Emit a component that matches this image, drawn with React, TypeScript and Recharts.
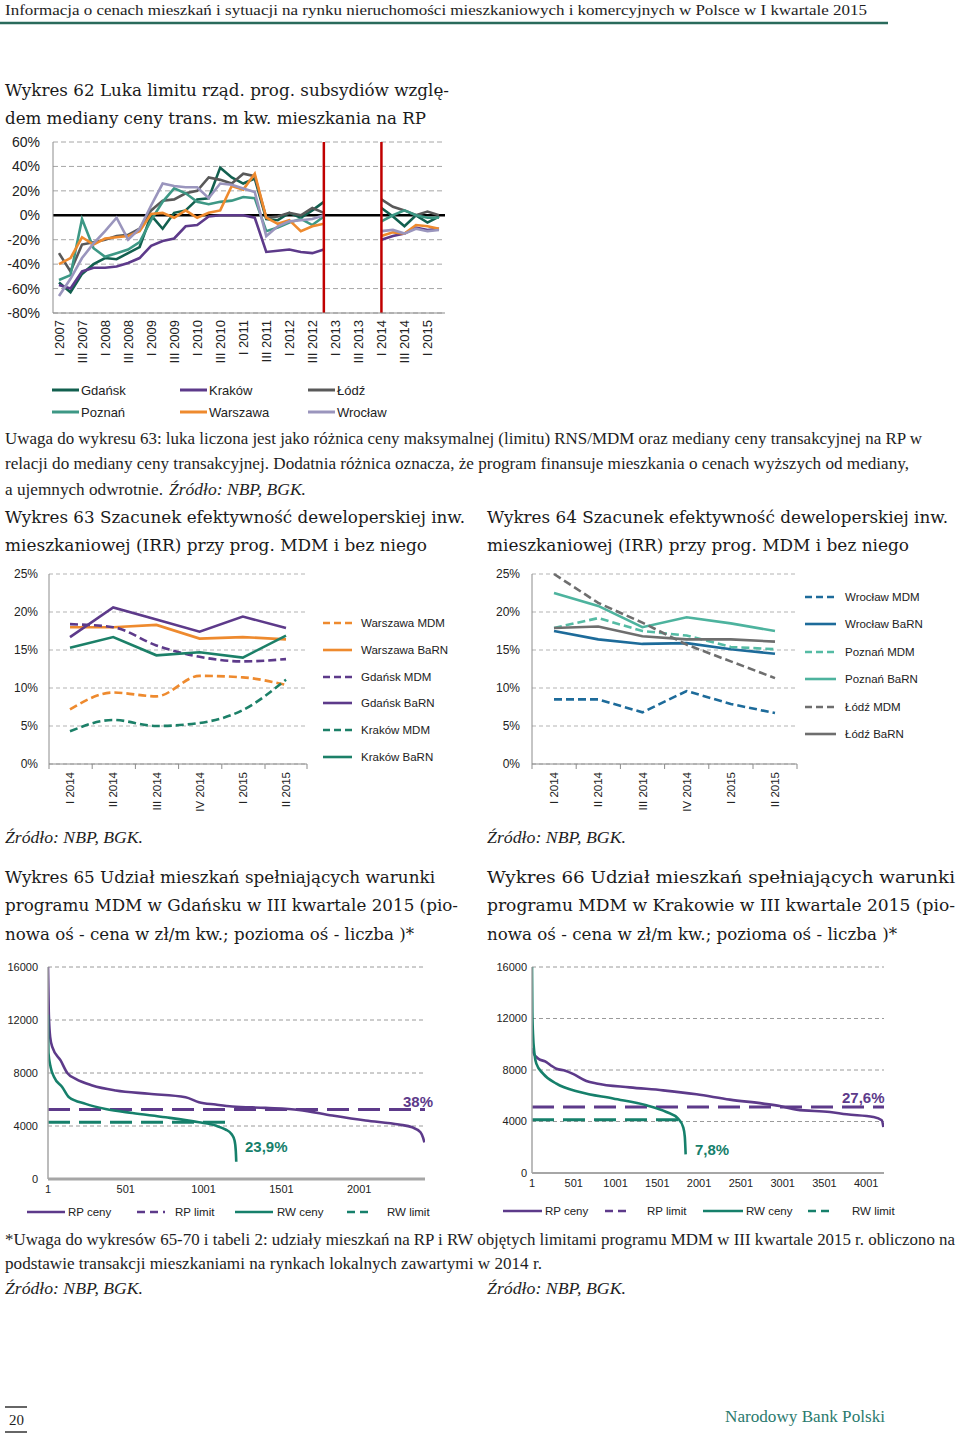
import React from 'react';
import { LineChart, Line, XAxis, YAxis, CartesianGrid, ReferenceLine } from 'recharts';

const SANS = '"Liberation Sans", Arial, sans-serif';
const SERIF = '"Liberation Serif", "DejaVu Serif", serif';
const TITLE = '"DejaVu Serif", "Liberation Serif", serif';

// ---------- Wykres 62 ----------
const quarters62 = [
  'I 2007', 'II 2007', 'III 2007', 'IV 2007',
  'I 2008', 'II 2008', 'III 2008', 'IV 2008',
  'I 2009', 'II 2009', 'III 2009', 'IV 2009',
  'I 2010', 'II 2010', 'III 2010', 'IV 2010',
  'I 2011', 'II 2011', 'III 2011', 'IV 2011',
  'I 2012', 'II 2012', 'III 2012', 'IV 2012',
  'I 2013', 'II 2013', 'III 2013', 'IV 2013',
  'I 2014', 'II 2014', 'III 2014', 'IV 2014',
  'I 2015', 'II 2015',
];
const breaks62 = ['IV 2012', 'I 2014'];
const ticks62 = [-80, -60, -40, -20, 0, 20, 40, 60];

const gdansk62 = [-55, -63, -48, -40, -35, -36, -31, -26, 0, -11, 2, 4, 13, 14, 39, 31, 26, 30, -3, -4, 2, -2, 4, 11, null, null, null, null, 6, -1, -9, 0, -6, -1];
const krakow62 = [-57, -60, -46, -43, -43, -42, -39, -35, -25, -21, -19, -9, -8, -1, 0, 0, 0, -2, -30, -29, -28, -30, -31, -28, null, null, null, null, -20, -17, -15, -10, -12, -11];
const lodz62 = [-31, -46, -24, -22, -20, -17, -16, -11, 4, 12, 13, 18, 20, 31, 29, 26, 34, 32, -2, -1, 2, 0, 6, 2, null, null, null, null, 13, 7, 4, 0, 3, 0];
const poznan62 = [-53, -49, -3, -27, -34, -31, -28, -22, -4, 11, 22, 18, 11, 9, 11, 12, 15, 14, -13, -10, -6, -3, -8, -1, null, null, null, null, -5, 0, 4, 0, -2, -2];
const warszawa62 = [-40, -35, -18, -24, -19, -18, -17, -13, 1, 2, -2, 4, -2, 2, 4, 24, 21, 34, -2, -7, -4, -13, -9, -7, null, null, null, null, -17, -14, -15, -8, -9, -11];
const wroclaw62 = [-66, -52, -35, -23, -13, -2, -20, -11, 8, 26, 24, 23, 23, 14, 26, 25, 22, 19, -17, -9, -5, -4, -3, 0, null, null, null, null, -13, -12, -15, -11, -13, -12];

// ---------- Wykres 63 / 64 ----------
const quarters63 = ['I 2014', 'II 2014', 'III 2014', 'IV 2014', 'I 2015', 'II 2015'];
const ticks63 = [0, 5, 10, 15, 20, 25];

const warszawaMdm = [7.2, 9.4, 8.9, 11.6, 11.4, 10.4];
const warszawaBarn = [18.0, 18.0, 18.3, 16.5, 16.7, 16.4];
const gdanskMdm = [18.4, 18.0, 15.6, 14.1, 13.5, 13.8];
const gdanskBarn = [16.7, 20.6, 19.0, 17.4, 19.4, 17.9];
const krakowMdm = [4.3, 5.8, 5.0, 5.4, 7.1, 11.1];
const krakowBarn = [15.3, 16.7, 14.3, 14.7, 14.0, 16.9];

const wroclawMdm = [8.5, 8.5, 6.8, 9.6, 7.9, 6.7];
const wroclawBarn = [17.5, 16.4, 15.8, 15.9, 15.1, 14.5];
const poznanMdm = [17.9, 19.2, 17.5, 16.9, 15.4, 15.1];
const poznanBarn = [22.5, 20.8, 18.0, 19.3, 18.5, 17.5];
const lodzMdm = [25.0, 21.2, 18.6, 15.7, 13.5, 11.3];
const lodzBarn = [17.9, 18.1, 16.8, 16.4, 16.4, 16.1];

// ---------- Wykres 65 (Gdańsk) ----------
const ticks65x = [1, 501, 1001, 1501, 2001];
const ticksPrice = [0, 4000, 8000, 12000, 16000];
const gdRpRank = [1, 6, 15, 29, 82, 125, 179, 286, 436, 650, 885, 971, 1078, 1185, 1399, 1613, 1828, 2042, 2256, 2342, 2395, 2412, 2420];
const gdRpPrice = [16000, 12600, 10700, 9950, 8950, 8000, 7560, 7060, 6680, 6430, 6170, 5800, 5620, 5470, 5370, 5220, 4790, 4410, 4110, 3900, 3530, 3100, 2770];
const gdRwRank = [1, 4, 18, 40, 93, 136, 243, 371, 543, 757, 971, 1078, 1140, 1180, 1200, 1208, 1211];
const gdRwPrice = [12400, 9500, 8440, 7690, 6930, 6170, 5670, 5290, 4980, 4660, 4280, 4030, 3750, 3400, 2900, 2100, 1300];
const gdRpLimit = 5240;
const gdRwLimit = 4280;
const gdRpCount = 2424;
const gdRwLimitEnd = 1180;

// ---------- Wykres 66 (Kraków) ----------
const ticks66x = [1, 501, 1001, 1501, 2001, 2501, 3001, 3501, 4001];
const krRpRank = [1, 20, 73, 173, 240, 293, 400, 492, 652, 772, 1171, 1570, 1970, 2369, 2768, 2968, 3168, 3567, 3767, 4087, 4187, 4207];
const krRpPrice = [9700, 9300, 8900, 8620, 8300, 8100, 7950, 7700, 7150, 6950, 6650, 6420, 6110, 5700, 5390, 5200, 4920, 4740, 4560, 4350, 4100, 3570];
const krRwRank = [1, 5, 13, 30, 53, 133, 293, 572, 971, 1371, 1610, 1750, 1810, 1830, 1840];
const krRwPrice = [16000, 12500, 10800, 9300, 8490, 7720, 6940, 6290, 5780, 5260, 4740, 4220, 3570, 2800, 1450];
const krRpLimit = 5130;
const krRwLimit = 4140;
const krRpCount = 4214;
const krRwLimitEnd = 1840;

// ---------- colours ----------
const PURPLE = '#5d3a8a';
const TEAL = '#16806b';
const ORANGE = '#ee8a2e';

const series62 = [
  { key: 'gdansk', name: 'Gdańsk', color: '#12604f', values: gdansk62 },
  { key: 'krakow', name: 'Kraków', color: PURPLE, values: krakow62 },
  { key: 'lodz', name: 'Łódź', color: '#595959', values: lodz62 },
  { key: 'poznan', name: 'Poznań', color: '#3d9885', values: poznan62 },
  { key: 'warszawa', name: 'Warszawa', color: ORANGE, values: warszawa62 },
  { key: 'wroclaw', name: 'Wrocław', color: '#9a95bd', values: wroclaw62 },
];

const series63 = [
  { key: 'wMdm', name: 'Warszawa MDM', color: ORANGE, dashed: true, values: warszawaMdm },
  { key: 'wBarn', name: 'Warszawa BaRN', color: ORANGE, dashed: false, values: warszawaBarn },
  { key: 'gMdm', name: 'Gdańsk MDM', color: PURPLE, dashed: true, values: gdanskMdm },
  { key: 'gBarn', name: 'Gdańsk BaRN', color: PURPLE, dashed: false, values: gdanskBarn },
  { key: 'kMdm', name: 'Kraków MDM', color: '#1c8068', dashed: true, values: krakowMdm },
  { key: 'kBarn', name: 'Kraków BaRN', color: '#1c8068', dashed: false, values: krakowBarn },
];

const series64 = [
  { key: 'wrMdm', name: 'Wrocław MDM', color: '#1d6b9a', dashed: true, values: wroclawMdm },
  { key: 'wrBarn', name: 'Wrocław BaRN', color: '#1d6b9a', dashed: false, values: wroclawBarn },
  { key: 'pMdm', name: 'Poznań MDM', color: '#55bba4', dashed: true, values: poznanMdm },
  { key: 'pBarn', name: 'Poznań BaRN', color: '#4db39e', dashed: false, values: poznanBarn },
  { key: 'lMdm', name: 'Łódź MDM', color: '#6e6e6e', dashed: true, values: lodzMdm },
  { key: 'lBarn', name: 'Łódź BaRN', color: '#6e6e6e', dashed: false, values: lodzBarn },
];

const toRows = (cats: string[], series: any[]) =>
  cats.map((q, i) => {
    const row: any = { q };
    series.forEach((s) => (row[s.key] = s.values[i]));
    return row;
  });

const data62 = toRows(quarters62, series62);
const data63 = toRows(quarters63, series63);
const data64 = toRows(quarters63, series64);

const toPoints = (xs: number[], ys: number[]) => xs.map((x, i) => ({ x, y: ys[i] }));

const pct = (v: number) => `${v}%`;

// rotated category label; optional small tick marks at the band edges
const RotTick = (props: any) => {
  const { x, y, payload, size, band, index, count } = props;
  const axisY = y - 8;
  return (
    <g>
      {band ? (
        <line x1={x - band / 2} x2={x - band / 2} y1={axisY} y2={axisY + 5} stroke="#8c8c8c" />
      ) : null}
      {band && index === count - 1 ? (
        <line x1={x + band / 2} x2={x + band / 2} y1={axisY} y2={axisY + 5} stroke="#8c8c8c" />
      ) : null}
      <text
        x={x}
        y={y}
        transform={`rotate(-90 ${x} ${y})`}
        textAnchor="end"
        dy="0.36em"
        fontSize={size}
        fontFamily={SANS}
        fill="#222"
      >
        {payload.value}
      </text>
    </g>
  );
};

const Txt = ({ x, y, w, size, italic, color = '#1e1e1e', children, family = SERIF, weight = 'normal' }: any) => (
  <text
    x={x}
    y={y}
    fontSize={size}
    fontFamily={family}
    fontStyle={italic ? 'italic' : 'normal'}
    fontWeight={weight}
    fill={color}
    {...(w ? { textLength: w, lengthAdjust: 'spacingAndGlyphs' } : {})}
  >
    {children}
  </text>
);

const Title = (props: any) => <Txt size={17} family={TITLE} color="#1a1a1a" {...props} />;

const Chart62 = () => (
  <div style={{ position: 'absolute', left: 0, top: 130, width: 450, height: 240 }}>
    <LineChart width={450} height={240} data={data62} margin={{ top: 12, right: 5, bottom: 0, left: 0 }}>
      <CartesianGrid vertical={false} stroke="#a6a6a6" strokeDasharray="5 3" />
      <XAxis
        dataKey="q"
        interval={1}
        height={57}
        padding={{ left: 6, right: 6 }}
        tick={<RotTick size={13} />}
        tickLine={false}
        tickSize={4}
        tickMargin={3}
        axisLine={{ stroke: '#8c8c8c' }}
      />
      <YAxis
        width={53}
        domain={[-80, 60]}
        ticks={ticks62}
        tickFormatter={pct}
        tick={{ fontSize: 14, fill: '#222', fontFamily: SANS }}
        tickLine={false}
        tickSize={5}
        tickMargin={8}
        axisLine={{ stroke: '#8c8c8c' }}
      />
      <ReferenceLine y={0} stroke="#000" strokeWidth={2.5} />
      {series62.map((s) => (
        <Line
          key={s.key}
          dataKey={s.key}
          name={s.name}
          stroke={s.color}
          strokeWidth={2.6}
          dot={false}
          type="linear"
          isAnimationActive={false}
        />
      ))}
      {breaks62.map((b) => (
        <ReferenceLine key={b} x={b} stroke="#c00000" strokeWidth={2.5} />
      ))}
    </LineChart>
  </div>
);

const IrrChart = ({ left, width, right, yWidth, pad, data, series, smoothMdm, tickSize, tickMargin }: any) => (
  <div style={{ position: 'absolute', left, top: 564, width, height: 250 }}>
    <LineChart width={width} height={250} data={data} margin={{ top: 10, right, bottom: 0, left: 0 }}>
      <CartesianGrid vertical={false} stroke="#b3b3b3" strokeDasharray="4 3" />
      <XAxis
        dataKey="q"
        interval={0}
        height={50}
        padding={{ left: pad, right: pad }}
        tick={<RotTick size={11.5} band={pad * 2} count={data.length} />}
        tickLine={false}
        tickSize={4}
        tickMargin={4}
        axisLine={{ stroke: '#8c8c8c' }}
      />
      <YAxis
        width={yWidth}
        domain={[0, 25]}
        ticks={ticks63}
        tickFormatter={pct}
        tick={{ fontSize: 12, fill: '#222', fontFamily: SANS }}
        tickLine={false}
        tickSize={tickSize}
        tickMargin={tickMargin}
        axisLine={{ stroke: '#8c8c8c' }}
      />
      {series.map((s: any) => (
        <Line
          key={s.key}
          dataKey={s.key}
          name={s.name}
          stroke={s.color}
          strokeWidth={2.6}
          strokeDasharray={s.dashed ? '8 4' : undefined}
          dot={false}
          type={s.dashed && smoothMdm ? 'monotone' : 'linear'}
          isAnimationActive={false}
        />
      ))}
    </LineChart>
  </div>
);

const PriceChart = ({ left, width, height, plotH, right, yWidth, yMargin, count, xTicks, rp, rw, rpLimit, rwLimit, rwEnd, axisWidth }: any) => (
  <div style={{ position: 'absolute', left, top: 955, width, height }}>
    <LineChart width={width} height={height} margin={{ top: 12, right, bottom: 0, left: 0 }}>
      <CartesianGrid vertical={false} stroke="#9a9a9a" strokeDasharray="4 3" />
      <XAxis
        dataKey="x"
        type="number"
        domain={[1, count]}
        ticks={xTicks}
        height={height - 12 - plotH}
        tick={{ fontSize: 11, fill: '#222', fontFamily: SANS }}
        tickLine={false}
        tickSize={2}
        tickMargin={4}
        axisLine={{ stroke: '#a6a6a6', strokeWidth: axisWidth }}
        allowDataOverflow
      />
      <YAxis
        width={yWidth}
        domain={[0, 16000]}
        ticks={ticksPrice}
        tick={{ fontSize: 11, fill: '#222', fontFamily: SANS }}
        tickLine={false}
        tickSize={0}
        tickMargin={yMargin}
        axisLine={{ stroke: '#a6a6a6', strokeWidth: 1.5 }}
      />
      <Line data={rp} dataKey="y" name="RP ceny" stroke={PURPLE} strokeWidth={2.6} dot={false} type="monotone" isAnimationActive={false} />
      <Line
        data={[{ x: 1, y: rpLimit }, { x: count, y: rpLimit }]}
        dataKey="y"
        name="RP limit"
        stroke={PURPLE}
        strokeWidth={3}
        strokeDasharray="22 9"
        dot={false}
        isAnimationActive={false}
      />
      <Line data={rw} dataKey="y" name="RW ceny" stroke={TEAL} strokeWidth={2.6} dot={false} type="monotone" isAnimationActive={false} />
      <Line
        data={[{ x: 1, y: rwLimit }, { x: rwEnd, y: rwLimit }]}
        dataKey="y"
        name="RW limit"
        stroke={TEAL}
        strokeWidth={3}
        strokeDasharray="22 9"
        dot={false}
        isAnimationActive={false}
      />
    </LineChart>
  </div>
);

// legend layouts (position only)
const legend62Pos = [
  [52, 390], [180, 390], [308, 390],
  [52, 412], [180, 412], [308, 412],
];
const legend63Rows = [623, 650, 677, 703, 730, 757];
const legend64Rows = [597, 624, 652, 679, 707, 734];
const priceLegend = [
  { name: 'RP ceny', color: PURPLE, dashed: false },
  { name: 'RP limit', color: PURPLE, dashed: true },
  { name: 'RW ceny', color: TEAL, dashed: false },
  { name: 'RW limit', color: TEAL, dashed: true },
];
const legend65Pos = [[27, 65, 68], [137, 165, 175], [235, 273, 277], [347, 372, 387]];
const legend66Pos = [[503, 542, 545], [605, 628, 647], [703, 743, 746], [808, 833, 852]];

const Overlay = () => (
  <svg width={960} height={1434} style={{ position: 'absolute', left: 0, top: 0, pointerEvents: 'none' }}>
    {/* header */}
    <Txt x={5} y={15} w={862} size={15}>
      Informacja o cenach mieszkań i sytuacji na rynku nieruchomości mieszkaniowych i komercyjnych w Polsce w I kwartale 2015
    </Txt>
    <line x1={0} x2={888} y1={23} y2={23} stroke="#2a6b5c" strokeWidth={2.5} />

    <Title x={5} y={96} w={444}>Wykres 62 Luka limitu rząd. prog. subsydiów wzglę-</Title>
    <Title x={5} y={124} w={421}>dem mediany ceny trans. m kw. mieszkania na RP</Title>

    {/* legend 62 */}
    {series62.map((s, i) => (
      <g key={s.key}>
        <line x1={legend62Pos[i][0]} x2={legend62Pos[i][0] + 27} y1={legend62Pos[i][1]} y2={legend62Pos[i][1]} stroke={s.color} strokeWidth={3} />
        <Txt x={legend62Pos[i][0] + 29} y={legend62Pos[i][1] + 5} size={13} family={SANS} color="#222">{s.name}</Txt>
      </g>
    ))}

    <Txt x={5} y={444} w={917} size={16.5}>
      Uwaga do wykresu 63: luka liczona jest jako różnica ceny maksymalnej (limitu) RNS/MDM oraz mediany ceny transakcyjnej na RP w
    </Txt>
    <Txt x={5} y={469} w={904} size={16.5}>
      relacji do mediany ceny transakcyjnej. Dodatnia różnica oznacza, że program finansuje mieszkania o cenach wyższych od mediany,
    </Txt>
    <Txt x={5} y={495} w={158} size={16.5}>a ujemnych odwrotnie.</Txt>
    <Txt x={169} y={495} w={137} size={16.5} italic>Źródło: NBP, BGK.</Txt>

    <Title x={5} y={523} w={460}>Wykres 63 Szacunek efektywność deweloperskiej inw.</Title>
    <Title x={5} y={551} w={422}>mieszkaniowej (IRR) przy prog. MDM i bez niego</Title>
    <Title x={487} y={523} w={461}>Wykres 64 Szacunek efektywność deweloperskiej inw.</Title>
    <Title x={487} y={551} w={422}>mieszkaniowej (IRR) przy prog. MDM i bez niego</Title>

    {/* legends 63 / 64 */}
    {series63.map((s, i) => (
      <g key={s.key}>
        <line x1={323} x2={352} y1={legend63Rows[i]} y2={legend63Rows[i]} stroke={s.color} strokeWidth={2.6} strokeDasharray={s.dashed ? '7 4' : undefined} />
        <Txt x={361} y={legend63Rows[i] + 4} size={11.5} family={SANS} color="#222">{s.name}</Txt>
      </g>
    ))}
    {series64.map((s, i) => (
      <g key={s.key}>
        <line x1={805} x2={836} y1={legend64Rows[i]} y2={legend64Rows[i]} stroke={s.color} strokeWidth={2.6} strokeDasharray={s.dashed ? '7 4' : undefined} />
        <Txt x={845} y={legend64Rows[i] + 4} size={11.5} family={SANS} color="#222">{s.name}</Txt>
      </g>
    ))}

    <Txt x={5} y={843} w={138} size={16.5} italic>Źródło: NBP, BGK.</Txt>
    <Txt x={487} y={843} w={139} size={16.5} italic>Źródło: NBP, BGK.</Txt>

    <Title x={5} y={883} w={430}>Wykres 65 Udział mieszkań spełniających warunki</Title>
    <Title x={5} y={911} w={453}>programu MDM w Gdańsku w III kwartale 2015 (pio-</Title>
    <Title x={5} y={940} w={409}>nowa oś - cena w zł/m kw.; pozioma oś - liczba )*</Title>
    <Title x={487} y={883} w={468}>Wykres 66 Udział mieszkań spełniających warunki</Title>
    <Title x={487} y={911} w={468}>programu MDM w Krakowie w III kwartale 2015 (pio-</Title>
    <Title x={487} y={940} w={410}>nowa oś - cena w zł/m kw.; pozioma oś - liczba )*</Title>

    {/* annotations 65 / 66 */}
    <Txt x={403} y={1107} size={15} family={SANS} weight="bold" color={PURPLE}>38%</Txt>
    <Txt x={245} y={1152} size={15} family={SANS} weight="bold" color={TEAL}>23,9%</Txt>
    <Txt x={842} y={1103} size={15} family={SANS} weight="bold" color={PURPLE}>27,6%</Txt>
    <Txt x={695} y={1155} size={15} family={SANS} weight="bold" color={TEAL}>7,8%</Txt>

    {/* legends 65 / 66 */}
    {priceLegend.map((s, i) => (
      <g key={'a' + s.name}>
        <line x1={legend65Pos[i][0]} x2={legend65Pos[i][1]} y1={1212} y2={1212} stroke={s.color} strokeWidth={2.6} strokeDasharray={s.dashed ? '8 5' : undefined} />
        <Txt x={legend65Pos[i][2]} y={1216} size={11.5} family={SANS} color="#222">{s.name}</Txt>
      </g>
    ))}
    {priceLegend.map((s, i) => (
      <g key={'b' + s.name}>
        <line x1={legend66Pos[i][0]} x2={legend66Pos[i][1]} y1={1211} y2={1211} stroke={s.color} strokeWidth={2.6} strokeDasharray={s.dashed ? '8 5' : undefined} />
        <Txt x={legend66Pos[i][2]} y={1215} size={11.5} family={SANS} color="#222">{s.name}</Txt>
      </g>
    ))}

    <Txt x={5} y={1245} w={950} size={16.5}>
      *Uwaga do wykresów 65-70 i tabeli 2: udziały mieszkań na RP i RW objętych limitami programu MDM w III kwartale 2015 r. obliczono na
    </Txt>
    <Txt x={5} y={1269} w={537} size={16.5}>podstawie transakcji mieszkaniami na rynkach lokalnych zawartymi w 2014 r.</Txt>
    <Txt x={5} y={1294} w={138} size={16.5} italic>Źródło: NBP, BGK.</Txt>
    <Txt x={487} y={1294} w={139} size={16.5} italic>Źródło: NBP, BGK.</Txt>

    {/* footer */}
    <line x1={5} x2={27} y1={1407} y2={1407} stroke="#333" strokeWidth={1.5} />
    <line x1={5} x2={27} y1={1432} y2={1432} stroke="#333" strokeWidth={1.5} />
    <Txt x={9} y={1425} w={15} size={15}>20</Txt>
    <Txt x={725} y={1422} w={160} size={16.5} color="#2b7a6e">Narodowy Bank Polski</Txt>
  </svg>
);

export default function App() {
  return (
    <div style={{ position: 'absolute', left: 0, top: 0, width: 960, height: 1434, background: '#fff', overflow: 'hidden' }}>
      <Chart62 />
      <IrrChart left={0} width={460} right={153} yWidth={49} pad={21} data={data63} series={series63} smoothMdm tickSize={5} tickMargin={6} />
      <IrrChart left={480} width={480} right={163} yWidth={52} pad={22} data={data64} series={series64} smoothMdm={false} tickSize={5} tickMargin={7} />
      <PriceChart
        left={0}
        width={440}
        height={250}
        plotH={212}
        right={15}
        yWidth={48}
        yMargin={10}
        count={gdRpCount}
        xTicks={ticks65x}
        rp={toPoints(gdRpRank, gdRpPrice)}
        rw={toPoints(gdRwRank, gdRwPrice)}
        rpLimit={gdRpLimit}
        rwLimit={gdRwLimit}
        rwEnd={gdRwLimitEnd}
        axisWidth={3}
      />
      <PriceChart
        left={480}
        width={420}
        height={245}
        plotH={206}
        right={16}
        yWidth={52}
        yMargin={5}
        count={krRpCount}
        xTicks={ticks66x}
        rp={toPoints(krRpRank, krRpPrice)}
        rw={toPoints(krRwRank, krRwPrice)}
        rpLimit={krRpLimit}
        rwLimit={krRwLimit}
        rwEnd={krRwLimitEnd}
        axisWidth={2}
      />
      <Overlay />
    </div>
  );
}
